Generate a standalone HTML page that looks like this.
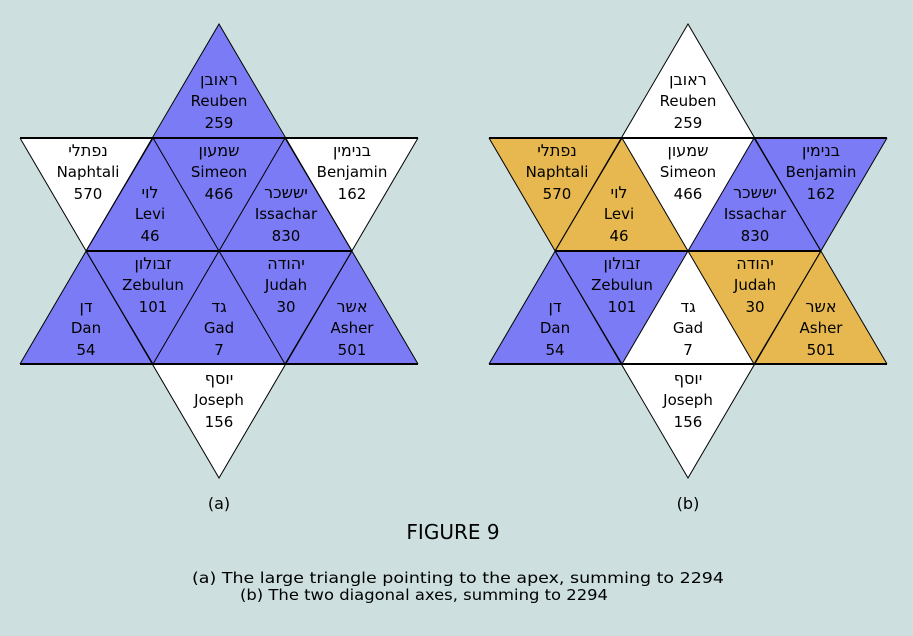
<!DOCTYPE html>
<html><head><meta charset="utf-8"><style>
body{margin:0;background:#cddfdf;}
svg{display:block}
text{font-family:"DejaVu Sans","Liberation Sans",sans-serif;font-size:15px;fill:#000;text-anchor:middle}
.h{font-family:"DejaVu Sans","Noto Sans CJK JP",sans-serif;font-size:16px}
</style></head><body>
<svg width="913" height="636" viewBox="0 0 913 636" xmlns="http://www.w3.org/2000/svg">
<rect width="913" height="636" fill="#cddfdf"/>
<defs>
<g id="labels">
<text class="h" x="219" y="85">ראובן</text><text x="219" y="106">Reuben</text><text x="219" y="128">259</text>
<text class="h" x="219" y="156">שמעון</text><text x="219" y="177">Simeon</text><text x="219" y="199">466</text>
<text class="h" x="88" y="156">נפתלי</text><text x="88" y="177">Naphtali</text><text x="88" y="199">570</text>
<text class="h" x="352" y="156">בנימין</text><text x="352" y="177">Benjamin</text><text x="352" y="199">162</text>
<text class="h" x="150" y="198">לוי</text><text x="150" y="219">Levi</text><text x="150" y="241">46</text>
<text class="h" x="286" y="198">יששכר</text><text x="286" y="219">Issachar</text><text x="286" y="241">830</text>
<text class="h" x="153" y="269">זבולון</text><text x="153" y="290">Zebulun</text><text x="153" y="312">101</text>
<text class="h" x="286" y="269">יהודה</text><text x="286" y="290">Judah</text><text x="286" y="312">30</text>
<text class="h" x="86" y="312">דן</text><text x="86" y="333">Dan</text><text x="86" y="355">54</text>
<text class="h" x="219" y="312">גד</text><text x="219" y="333">Gad</text><text x="219" y="355">7</text>
<text class="h" x="352" y="312">אשר</text><text x="352" y="333">Asher</text><text x="352" y="355">501</text>
<text class="h" x="219" y="384">יוסף</text><text x="219" y="405">Joseph</text><text x="219" y="427">156</text>
</g>
<g id="lines" stroke="#000" fill="none">
<line x1="20" y1="138" x2="418" y2="138" stroke-width="2"/>
<line x1="86" y1="251" x2="352" y2="251" stroke-width="2"/>
<line x1="20" y1="364" x2="418" y2="364" stroke-width="2"/>
<polyline points="20,138 219,478 418,138" stroke-width="1"/>
<polyline points="20,364 219,24 418,364" stroke-width="1"/>
<line x1="153" y1="138" x2="285" y2="364"/>
<line x1="285" y1="138" x2="153" y2="364"/>
<line x1="86" y1="251" x2="153" y2="138"/>
<line x1="352" y1="251" x2="285" y2="138"/>
<line x1="86" y1="251" x2="153" y2="364"/>
<line x1="352" y1="251" x2="285" y2="364"/>
</g>
</defs>
<g stroke="none">
<polygon points="219,24 153,138 285,138" fill="#7b7bf5"/>
<polygon points="20,138 153,138 86,251" fill="#fff"/>
<polygon points="153,138 86,251 219,251" fill="#7b7bf5"/>
<polygon points="153,138 285,138 219,251" fill="#7b7bf5"/>
<polygon points="285,138 219,251 352,251" fill="#7b7bf5"/>
<polygon points="285,138 418,138 352,251" fill="#fff"/>
<polygon points="86,251 20,364 153,364" fill="#7b7bf5"/>
<polygon points="86,251 219,251 153,364" fill="#7b7bf5"/>
<polygon points="219,251 153,364 285,364" fill="#7b7bf5"/>
<polygon points="219,251 352,251 285,364" fill="#7b7bf5"/>
<polygon points="352,251 285,364 418,364" fill="#7b7bf5"/>
<polygon points="153,364 285,364 219,478" fill="#fff"/>
</g>
<use href="#lines"/>
<use href="#labels"/>
<g transform="translate(469,0)">
<g stroke="none">
<polygon points="219,24 153,138 285,138" fill="#fff"/>
<polygon points="20,138 153,138 86,251" fill="#e6b84f"/>
<polygon points="153,138 86,251 219,251" fill="#e6b84f"/>
<polygon points="153,138 285,138 219,251" fill="#fff"/>
<polygon points="285,138 219,251 352,251" fill="#7b7bf5"/>
<polygon points="285,138 418,138 352,251" fill="#7b7bf5"/>
<polygon points="86,251 20,364 153,364" fill="#7b7bf5"/>
<polygon points="86,251 219,251 153,364" fill="#7b7bf5"/>
<polygon points="219,251 153,364 285,364" fill="#fff"/>
<polygon points="219,251 352,251 285,364" fill="#e6b84f"/>
<polygon points="352,251 285,364 418,364" fill="#e6b84f"/>
<polygon points="153,364 285,364 219,478" fill="#fff"/>
</g>
<use href="#lines"/>
<use href="#labels"/>
</g>
<text x="219" y="509" style="font-size:16px">(a)</text>
<text x="688" y="509" style="font-size:16px">(b)</text>
<text x="453" y="539" style="font-size:20px">FIGURE 9</text>
<text x="458" y="583" style="font-size:15px" textLength="532" lengthAdjust="spacingAndGlyphs">(a) The large triangle pointing to the apex, summing to 2294</text>
<text x="424" y="600" style="font-size:15px" textLength="368" lengthAdjust="spacingAndGlyphs">(b) The two diagonal axes, summing to 2294</text>
</svg>
</body></html>
